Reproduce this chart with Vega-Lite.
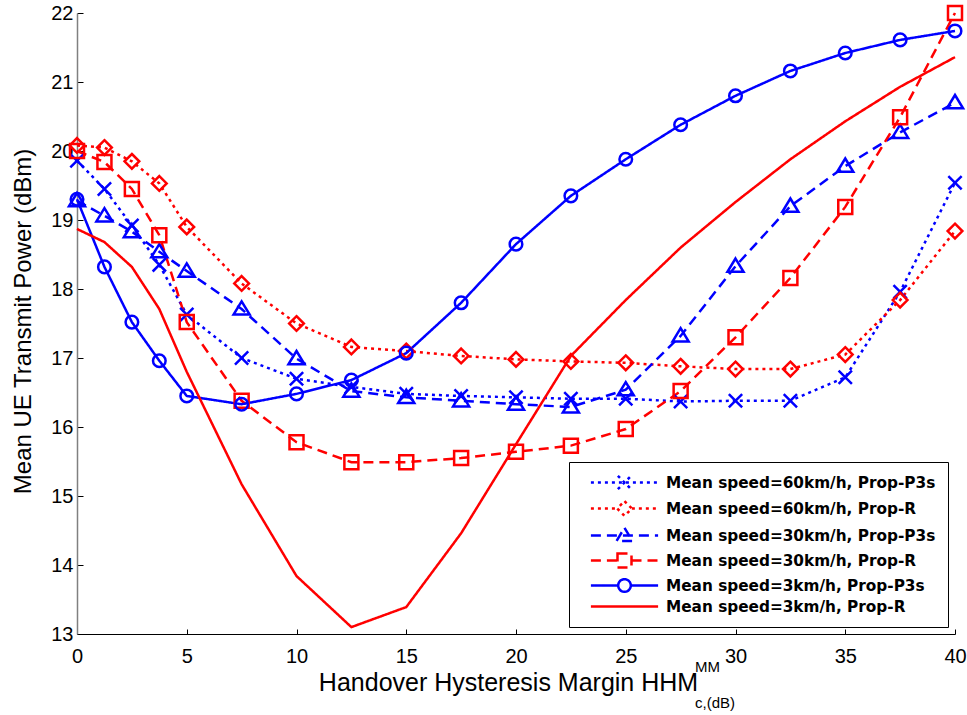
{
  "$schema": "https://vega.github.io/schema/vega-lite/v6.json",
  "width": 878,
  "height": 621,
  "padding": {"left": 11, "top": 1, "right": 12, "bottom": 0},
  "background": "white",
  "config": {"view": {"stroke": null}, "font": "Liberation Sans"},
  "title": {
    "text": ["MM", "c,(dB)"],
    "orient": "bottom",
    "anchor": "start",
    "frame": "group",
    "align": "left",
    "fontSize": 15,
    "lineHeight": 36,
    "font": "Liberation Sans",
    "fontWeight": "normal",
    "color": "black",
    "dx": 618,
    "dy": -35,
    "offset": 0
  },
  "data": {"values": [
    {"s": "Mean speed=60km/h, Prop-P3s", "x": 0, "y": 19.86},
    {"s": "Mean speed=60km/h, Prop-P3s", "x": 1.25, "y": 19.45},
    {"s": "Mean speed=60km/h, Prop-P3s", "x": 2.5, "y": 18.92},
    {"s": "Mean speed=60km/h, Prop-P3s", "x": 3.75, "y": 18.35},
    {"s": "Mean speed=60km/h, Prop-P3s", "x": 5, "y": 17.63},
    {"s": "Mean speed=60km/h, Prop-P3s", "x": 7.5, "y": 17.0},
    {"s": "Mean speed=60km/h, Prop-P3s", "x": 10, "y": 16.7},
    {"s": "Mean speed=60km/h, Prop-P3s", "x": 12.5, "y": 16.58},
    {"s": "Mean speed=60km/h, Prop-P3s", "x": 15, "y": 16.48},
    {"s": "Mean speed=60km/h, Prop-P3s", "x": 17.5, "y": 16.45},
    {"s": "Mean speed=60km/h, Prop-P3s", "x": 20, "y": 16.43},
    {"s": "Mean speed=60km/h, Prop-P3s", "x": 22.5, "y": 16.41},
    {"s": "Mean speed=60km/h, Prop-P3s", "x": 25, "y": 16.41},
    {"s": "Mean speed=60km/h, Prop-P3s", "x": 27.5, "y": 16.37},
    {"s": "Mean speed=60km/h, Prop-P3s", "x": 30, "y": 16.38},
    {"s": "Mean speed=60km/h, Prop-P3s", "x": 32.5, "y": 16.38},
    {"s": "Mean speed=60km/h, Prop-P3s", "x": 35, "y": 16.72},
    {"s": "Mean speed=60km/h, Prop-P3s", "x": 37.5, "y": 17.96},
    {"s": "Mean speed=60km/h, Prop-P3s", "x": 40, "y": 19.54},
    {"s": "Mean speed=60km/h, Prop-R", "x": 0, "y": 20.08},
    {"s": "Mean speed=60km/h, Prop-R", "x": 1.25, "y": 20.05},
    {"s": "Mean speed=60km/h, Prop-R", "x": 2.5, "y": 19.85},
    {"s": "Mean speed=60km/h, Prop-R", "x": 3.75, "y": 19.53},
    {"s": "Mean speed=60km/h, Prop-R", "x": 5, "y": 18.9},
    {"s": "Mean speed=60km/h, Prop-R", "x": 7.5, "y": 18.08},
    {"s": "Mean speed=60km/h, Prop-R", "x": 10, "y": 17.5},
    {"s": "Mean speed=60km/h, Prop-R", "x": 12.5, "y": 17.16},
    {"s": "Mean speed=60km/h, Prop-R", "x": 15, "y": 17.1},
    {"s": "Mean speed=60km/h, Prop-R", "x": 17.5, "y": 17.03},
    {"s": "Mean speed=60km/h, Prop-R", "x": 20, "y": 16.98},
    {"s": "Mean speed=60km/h, Prop-R", "x": 22.5, "y": 16.95},
    {"s": "Mean speed=60km/h, Prop-R", "x": 25, "y": 16.93},
    {"s": "Mean speed=60km/h, Prop-R", "x": 27.5, "y": 16.88},
    {"s": "Mean speed=60km/h, Prop-R", "x": 30, "y": 16.84},
    {"s": "Mean speed=60km/h, Prop-R", "x": 32.5, "y": 16.84},
    {"s": "Mean speed=60km/h, Prop-R", "x": 35, "y": 17.05},
    {"s": "Mean speed=60km/h, Prop-R", "x": 37.5, "y": 17.84},
    {"s": "Mean speed=60km/h, Prop-R", "x": 40, "y": 18.84},
    {"s": "Mean speed=30km/h, Prop-P3s", "x": 0, "y": 19.28},
    {"s": "Mean speed=30km/h, Prop-P3s", "x": 1.25, "y": 19.06},
    {"s": "Mean speed=30km/h, Prop-P3s", "x": 2.5, "y": 18.83},
    {"s": "Mean speed=30km/h, Prop-P3s", "x": 3.75, "y": 18.54},
    {"s": "Mean speed=30km/h, Prop-P3s", "x": 5, "y": 18.26},
    {"s": "Mean speed=30km/h, Prop-P3s", "x": 7.5, "y": 17.71},
    {"s": "Mean speed=30km/h, Prop-P3s", "x": 10, "y": 16.99},
    {"s": "Mean speed=30km/h, Prop-P3s", "x": 12.5, "y": 16.52},
    {"s": "Mean speed=30km/h, Prop-P3s", "x": 15, "y": 16.43},
    {"s": "Mean speed=30km/h, Prop-P3s", "x": 17.5, "y": 16.38},
    {"s": "Mean speed=30km/h, Prop-P3s", "x": 20, "y": 16.33},
    {"s": "Mean speed=30km/h, Prop-P3s", "x": 22.5, "y": 16.29},
    {"s": "Mean speed=30km/h, Prop-P3s", "x": 25, "y": 16.54},
    {"s": "Mean speed=30km/h, Prop-P3s", "x": 27.5, "y": 17.32},
    {"s": "Mean speed=30km/h, Prop-P3s", "x": 30, "y": 18.33},
    {"s": "Mean speed=30km/h, Prop-P3s", "x": 32.5, "y": 19.2},
    {"s": "Mean speed=30km/h, Prop-P3s", "x": 35, "y": 19.78},
    {"s": "Mean speed=30km/h, Prop-P3s", "x": 37.5, "y": 20.27},
    {"s": "Mean speed=30km/h, Prop-P3s", "x": 40, "y": 20.7},
    {"s": "Mean speed=30km/h, Prop-R", "x": 0, "y": 20.0},
    {"s": "Mean speed=30km/h, Prop-R", "x": 1.25, "y": 19.84},
    {"s": "Mean speed=30km/h, Prop-R", "x": 2.5, "y": 19.45},
    {"s": "Mean speed=30km/h, Prop-R", "x": 3.75, "y": 18.78},
    {"s": "Mean speed=30km/h, Prop-R", "x": 5, "y": 17.52},
    {"s": "Mean speed=30km/h, Prop-R", "x": 7.5, "y": 16.38},
    {"s": "Mean speed=30km/h, Prop-R", "x": 10, "y": 15.78},
    {"s": "Mean speed=30km/h, Prop-R", "x": 12.5, "y": 15.49},
    {"s": "Mean speed=30km/h, Prop-R", "x": 15, "y": 15.49},
    {"s": "Mean speed=30km/h, Prop-R", "x": 17.5, "y": 15.55},
    {"s": "Mean speed=30km/h, Prop-R", "x": 20, "y": 15.64},
    {"s": "Mean speed=30km/h, Prop-R", "x": 22.5, "y": 15.73},
    {"s": "Mean speed=30km/h, Prop-R", "x": 25, "y": 15.97},
    {"s": "Mean speed=30km/h, Prop-R", "x": 27.5, "y": 16.52},
    {"s": "Mean speed=30km/h, Prop-R", "x": 30, "y": 17.3},
    {"s": "Mean speed=30km/h, Prop-R", "x": 32.5, "y": 18.16},
    {"s": "Mean speed=30km/h, Prop-R", "x": 35, "y": 19.19},
    {"s": "Mean speed=30km/h, Prop-R", "x": 37.5, "y": 20.49},
    {"s": "Mean speed=30km/h, Prop-R", "x": 40, "y": 22.0},
    {"s": "Mean speed=3km/h, Prop-P3s", "x": 0, "y": 19.3},
    {"s": "Mean speed=3km/h, Prop-P3s", "x": 1.25, "y": 18.32},
    {"s": "Mean speed=3km/h, Prop-P3s", "x": 2.5, "y": 17.52},
    {"s": "Mean speed=3km/h, Prop-P3s", "x": 3.75, "y": 16.96},
    {"s": "Mean speed=3km/h, Prop-P3s", "x": 5, "y": 16.45},
    {"s": "Mean speed=3km/h, Prop-P3s", "x": 7.5, "y": 16.33},
    {"s": "Mean speed=3km/h, Prop-P3s", "x": 10, "y": 16.48},
    {"s": "Mean speed=3km/h, Prop-P3s", "x": 12.5, "y": 16.68},
    {"s": "Mean speed=3km/h, Prop-P3s", "x": 15, "y": 17.07},
    {"s": "Mean speed=3km/h, Prop-P3s", "x": 17.5, "y": 17.8},
    {"s": "Mean speed=3km/h, Prop-P3s", "x": 20, "y": 18.65},
    {"s": "Mean speed=3km/h, Prop-P3s", "x": 22.5, "y": 19.35},
    {"s": "Mean speed=3km/h, Prop-P3s", "x": 25, "y": 19.88},
    {"s": "Mean speed=3km/h, Prop-P3s", "x": 27.5, "y": 20.38},
    {"s": "Mean speed=3km/h, Prop-P3s", "x": 30, "y": 20.8},
    {"s": "Mean speed=3km/h, Prop-P3s", "x": 32.5, "y": 21.16},
    {"s": "Mean speed=3km/h, Prop-P3s", "x": 35, "y": 21.42},
    {"s": "Mean speed=3km/h, Prop-P3s", "x": 37.5, "y": 21.61},
    {"s": "Mean speed=3km/h, Prop-P3s", "x": 40, "y": 21.74},
    {"s": "Mean speed=3km/h, Prop-R", "x": 0, "y": 18.87},
    {"s": "Mean speed=3km/h, Prop-R", "x": 1.25, "y": 18.68},
    {"s": "Mean speed=3km/h, Prop-R", "x": 2.5, "y": 18.32},
    {"s": "Mean speed=3km/h, Prop-R", "x": 3.75, "y": 17.71},
    {"s": "Mean speed=3km/h, Prop-R", "x": 5, "y": 16.8},
    {"s": "Mean speed=3km/h, Prop-R", "x": 7.5, "y": 15.17},
    {"s": "Mean speed=3km/h, Prop-R", "x": 10, "y": 13.84},
    {"s": "Mean speed=3km/h, Prop-R", "x": 12.5, "y": 13.1},
    {"s": "Mean speed=3km/h, Prop-R", "x": 15, "y": 13.39},
    {"s": "Mean speed=3km/h, Prop-R", "x": 17.5, "y": 14.46},
    {"s": "Mean speed=3km/h, Prop-R", "x": 20, "y": 15.75},
    {"s": "Mean speed=3km/h, Prop-R", "x": 22.5, "y": 17.03},
    {"s": "Mean speed=3km/h, Prop-R", "x": 25, "y": 17.84},
    {"s": "Mean speed=3km/h, Prop-R", "x": 27.5, "y": 18.6},
    {"s": "Mean speed=3km/h, Prop-R", "x": 30, "y": 19.26},
    {"s": "Mean speed=3km/h, Prop-R", "x": 32.5, "y": 19.88},
    {"s": "Mean speed=3km/h, Prop-R", "x": 35, "y": 20.43},
    {"s": "Mean speed=3km/h, Prop-R", "x": 37.5, "y": 20.93},
    {"s": "Mean speed=3km/h, Prop-R", "x": 40, "y": 21.36}
  ]},
  "encoding": {
    "x": {
      "field": "x", "type": "quantitative",
      "scale": {"domain": [0, 40], "nice": false, "zero": false},
      "axis": {
        "values": [0, 5, 10, 15, 20, 25, 30, 35, 40],
        "grid": false,
        "tickSize": -5, "tickColor": "black", "tickWidth": 1,
        "domainColor": "black", "domainWidth": 1,
        "labelFontSize": 20, "labelColor": "black", "labelPadding": 17,
        "labelFont": "Liberation Sans", "labelFlush": false,
        "title": "Handover Hysteresis Margin HHM",
        "titleFontSize": 25, "titleFontWeight": "normal", "titleColor": "black",
        "titleFont": "Liberation Sans", "titlePadding": 4, "titleX": 431
      }
    },
    "y": {
      "field": "y", "type": "quantitative",
      "scale": {"domain": [13, 22], "nice": false, "zero": false},
      "axis": {
        "values": [13, 14, 15, 16, 17, 18, 19, 20, 21, 22],
        "grid": false,
        "tickSize": -6, "tickColor": "black", "tickWidth": 1,
        "domainColor": "#808080", "domainWidth": 1.5,
        "labelFontSize": 20, "labelColor": "black", "labelPadding": 10,
        "labelFont": "Liberation Sans", "labelFlush": false,
        "title": "Mean UE Transmit Power (dBm)",
        "titleFontSize": 24, "titleFontWeight": "normal", "titleColor": "black",
        "titleFont": "Liberation Sans", "titlePadding": 15, "titleY": 308
      }
    }
  },
  "layer": [
    {
      "mark": {"type": "line", "strokeWidth": 2.5, "clip": false},
      "encoding": {
        "color": {
          "field": "s", "type": "nominal",
          "scale": {"domain": ["Mean speed=60km/h, Prop-P3s", "Mean speed=60km/h, Prop-R", "Mean speed=30km/h, Prop-P3s", "Mean speed=30km/h, Prop-R", "Mean speed=3km/h, Prop-P3s", "Mean speed=3km/h, Prop-R"],
                    "range": ["#0000ff", "#ff0000", "#0000ff", "#ff0000", "#0000ff", "#ff0000"]},
          "legend": null
        },
        "strokeDash": {
          "field": "s", "type": "nominal",
          "scale": {"domain": ["Mean speed=60km/h, Prop-P3s", "Mean speed=60km/h, Prop-R", "Mean speed=30km/h, Prop-P3s", "Mean speed=30km/h, Prop-R", "Mean speed=3km/h, Prop-P3s", "Mean speed=3km/h, Prop-R"],
                    "range": [[3, 4], [3, 4], [10, 6], [10, 6], [1, 0], [1, 0]]},
          "legend": null
        }
      }
    },
    {
      "transform": [{"filter": "datum.s !== 'Mean speed=3km/h, Prop-R'"}],
      "mark": {"type": "point", "filled": false, "size": 196, "strokeWidth": 2.5, "opacity": 1},
      "encoding": {
        "color": {
          "field": "s", "type": "nominal",
          "scale": {"domain": ["Mean speed=60km/h, Prop-P3s", "Mean speed=60km/h, Prop-R", "Mean speed=30km/h, Prop-P3s", "Mean speed=30km/h, Prop-R", "Mean speed=3km/h, Prop-P3s", "Mean speed=3km/h, Prop-R"],
                    "range": ["#0000ff", "#ff0000", "#0000ff", "#ff0000", "#0000ff", "#ff0000"]},
          "legend": null
        },
        "shape": {
          "field": "s", "type": "nominal",
          "scale": {"domain": ["Mean speed=60km/h, Prop-P3s", "Mean speed=60km/h, Prop-R", "Mean speed=30km/h, Prop-P3s", "Mean speed=30km/h, Prop-R", "Mean speed=3km/h, Prop-P3s"],
                    "range": ["M-0.95,-0.95L0.95,0.95M-0.95,0.95L0.95,-0.95", "M0,-1.05L1.05,0L0,1.05L-1.05,0Z", "M0,-1.1L1.15,0.8L-1.15,0.8Z", "M-1,-1H1V1H-1Z", "M-0.9,0A0.9,0.9 0 1,1 0.9,0A0.9,0.9 0 1,1 -0.9,0Z"]},
          "legend": null
        }
      }
    },
    {
      "mark": {"type": "point", "filled": false, "size": 196, "strokeWidth": 2.5, "opacity": 0},
      "encoding": {
        "color": {
          "field": "s", "type": "nominal",
          "scale": {"domain": ["Mean speed=60km/h, Prop-P3s", "Mean speed=60km/h, Prop-R", "Mean speed=30km/h, Prop-P3s", "Mean speed=30km/h, Prop-R", "Mean speed=3km/h, Prop-P3s", "Mean speed=3km/h, Prop-R"],
                    "range": ["#0000ff", "#ff0000", "#0000ff", "#ff0000", "#0000ff", "#ff0000"]},
          "legend": {
            "title": null, "orient": "bottom-right", "offset": 7,
            "strokeColor": "black", "fillColor": "white", "padding": 12,
            "labelFont": "DejaVu Sans", "labelFontWeight": "bold", "labelFontSize": 15.3, "labelColor": "black",
            "labelOffset": 33, "rowPadding": 1, "symbolOffset": 35, "symbolSize": 196, "symbolStrokeWidth": 2.5, "symbolOpacity": 1,
            "labelLimit": 400,
            "encode": {"symbols": {"update": {"opacity": {"value": 1}}}}
          }
        },
        "strokeDash": {
          "field": "s", "type": "nominal",
          "scale": {"domain": ["Mean speed=60km/h, Prop-P3s", "Mean speed=60km/h, Prop-R", "Mean speed=30km/h, Prop-P3s", "Mean speed=30km/h, Prop-R", "Mean speed=3km/h, Prop-P3s", "Mean speed=3km/h, Prop-R"],
                    "range": [[3, 4], [3, 4], [10, 6], [10, 6], [1, 0], [1, 0]]},
          "legend": {
            "title": null, "orient": "bottom-right", "offset": 7,
            "strokeColor": "black", "fillColor": "white", "padding": 12,
            "labelFont": "DejaVu Sans", "labelFontWeight": "bold", "labelFontSize": 15.3, "labelColor": "black",
            "labelOffset": 33, "rowPadding": 1, "symbolOffset": 35, "symbolSize": 196, "symbolStrokeWidth": 2.5, "symbolOpacity": 1,
            "labelLimit": 400,
            "encode": {"symbols": {"update": {"opacity": {"value": 1}}}}
          }
        },
        "shape": {
          "field": "s", "type": "nominal",
          "scale": {"domain": ["Mean speed=60km/h, Prop-P3s", "Mean speed=60km/h, Prop-R", "Mean speed=30km/h, Prop-P3s", "Mean speed=30km/h, Prop-R", "Mean speed=3km/h, Prop-P3s", "Mean speed=3km/h, Prop-R"],
                    "range": ["M-4.8,0H4.8M-0.95,-0.95L0.95,0.95M-0.95,0.95L0.95,-0.95", "M-4.8,0H-1.05M1.05,0H4.8M0,-1.05L1.05,0L0,1.05L-1.05,0Z", "M-4.8,0H4.8M0,-1.1L1.15,0.8L-1.15,0.8Z", "M-4.8,0H-1M1,0H4.8M-1,-1H1V1H-1Z", "M-4.8,0H-0.9M0.9,0H4.8M-0.9,0A0.9,0.9 0 1,1 0.9,0A0.9,0.9 0 1,1 -0.9,0Z", "M-4.8,0H4.8"]},
          "legend": {
            "title": null, "orient": "bottom-right", "offset": 7,
            "strokeColor": "black", "fillColor": "white", "padding": 12,
            "labelFont": "DejaVu Sans", "labelFontWeight": "bold", "labelFontSize": 15.3, "labelColor": "black",
            "labelOffset": 33, "rowPadding": 1, "symbolOffset": 35, "symbolSize": 196, "symbolStrokeWidth": 2.5, "symbolOpacity": 1,
            "labelLimit": 400,
            "encode": {"symbols": {"update": {"opacity": {"value": 1}}}}
          }
        }
      }
    }
  ],
  "resolve": {
    "scale": {"shape": "independent"},
    "legend": {"color": "independent", "shape": "independent", "strokeDash": "independent"}
  }
}
